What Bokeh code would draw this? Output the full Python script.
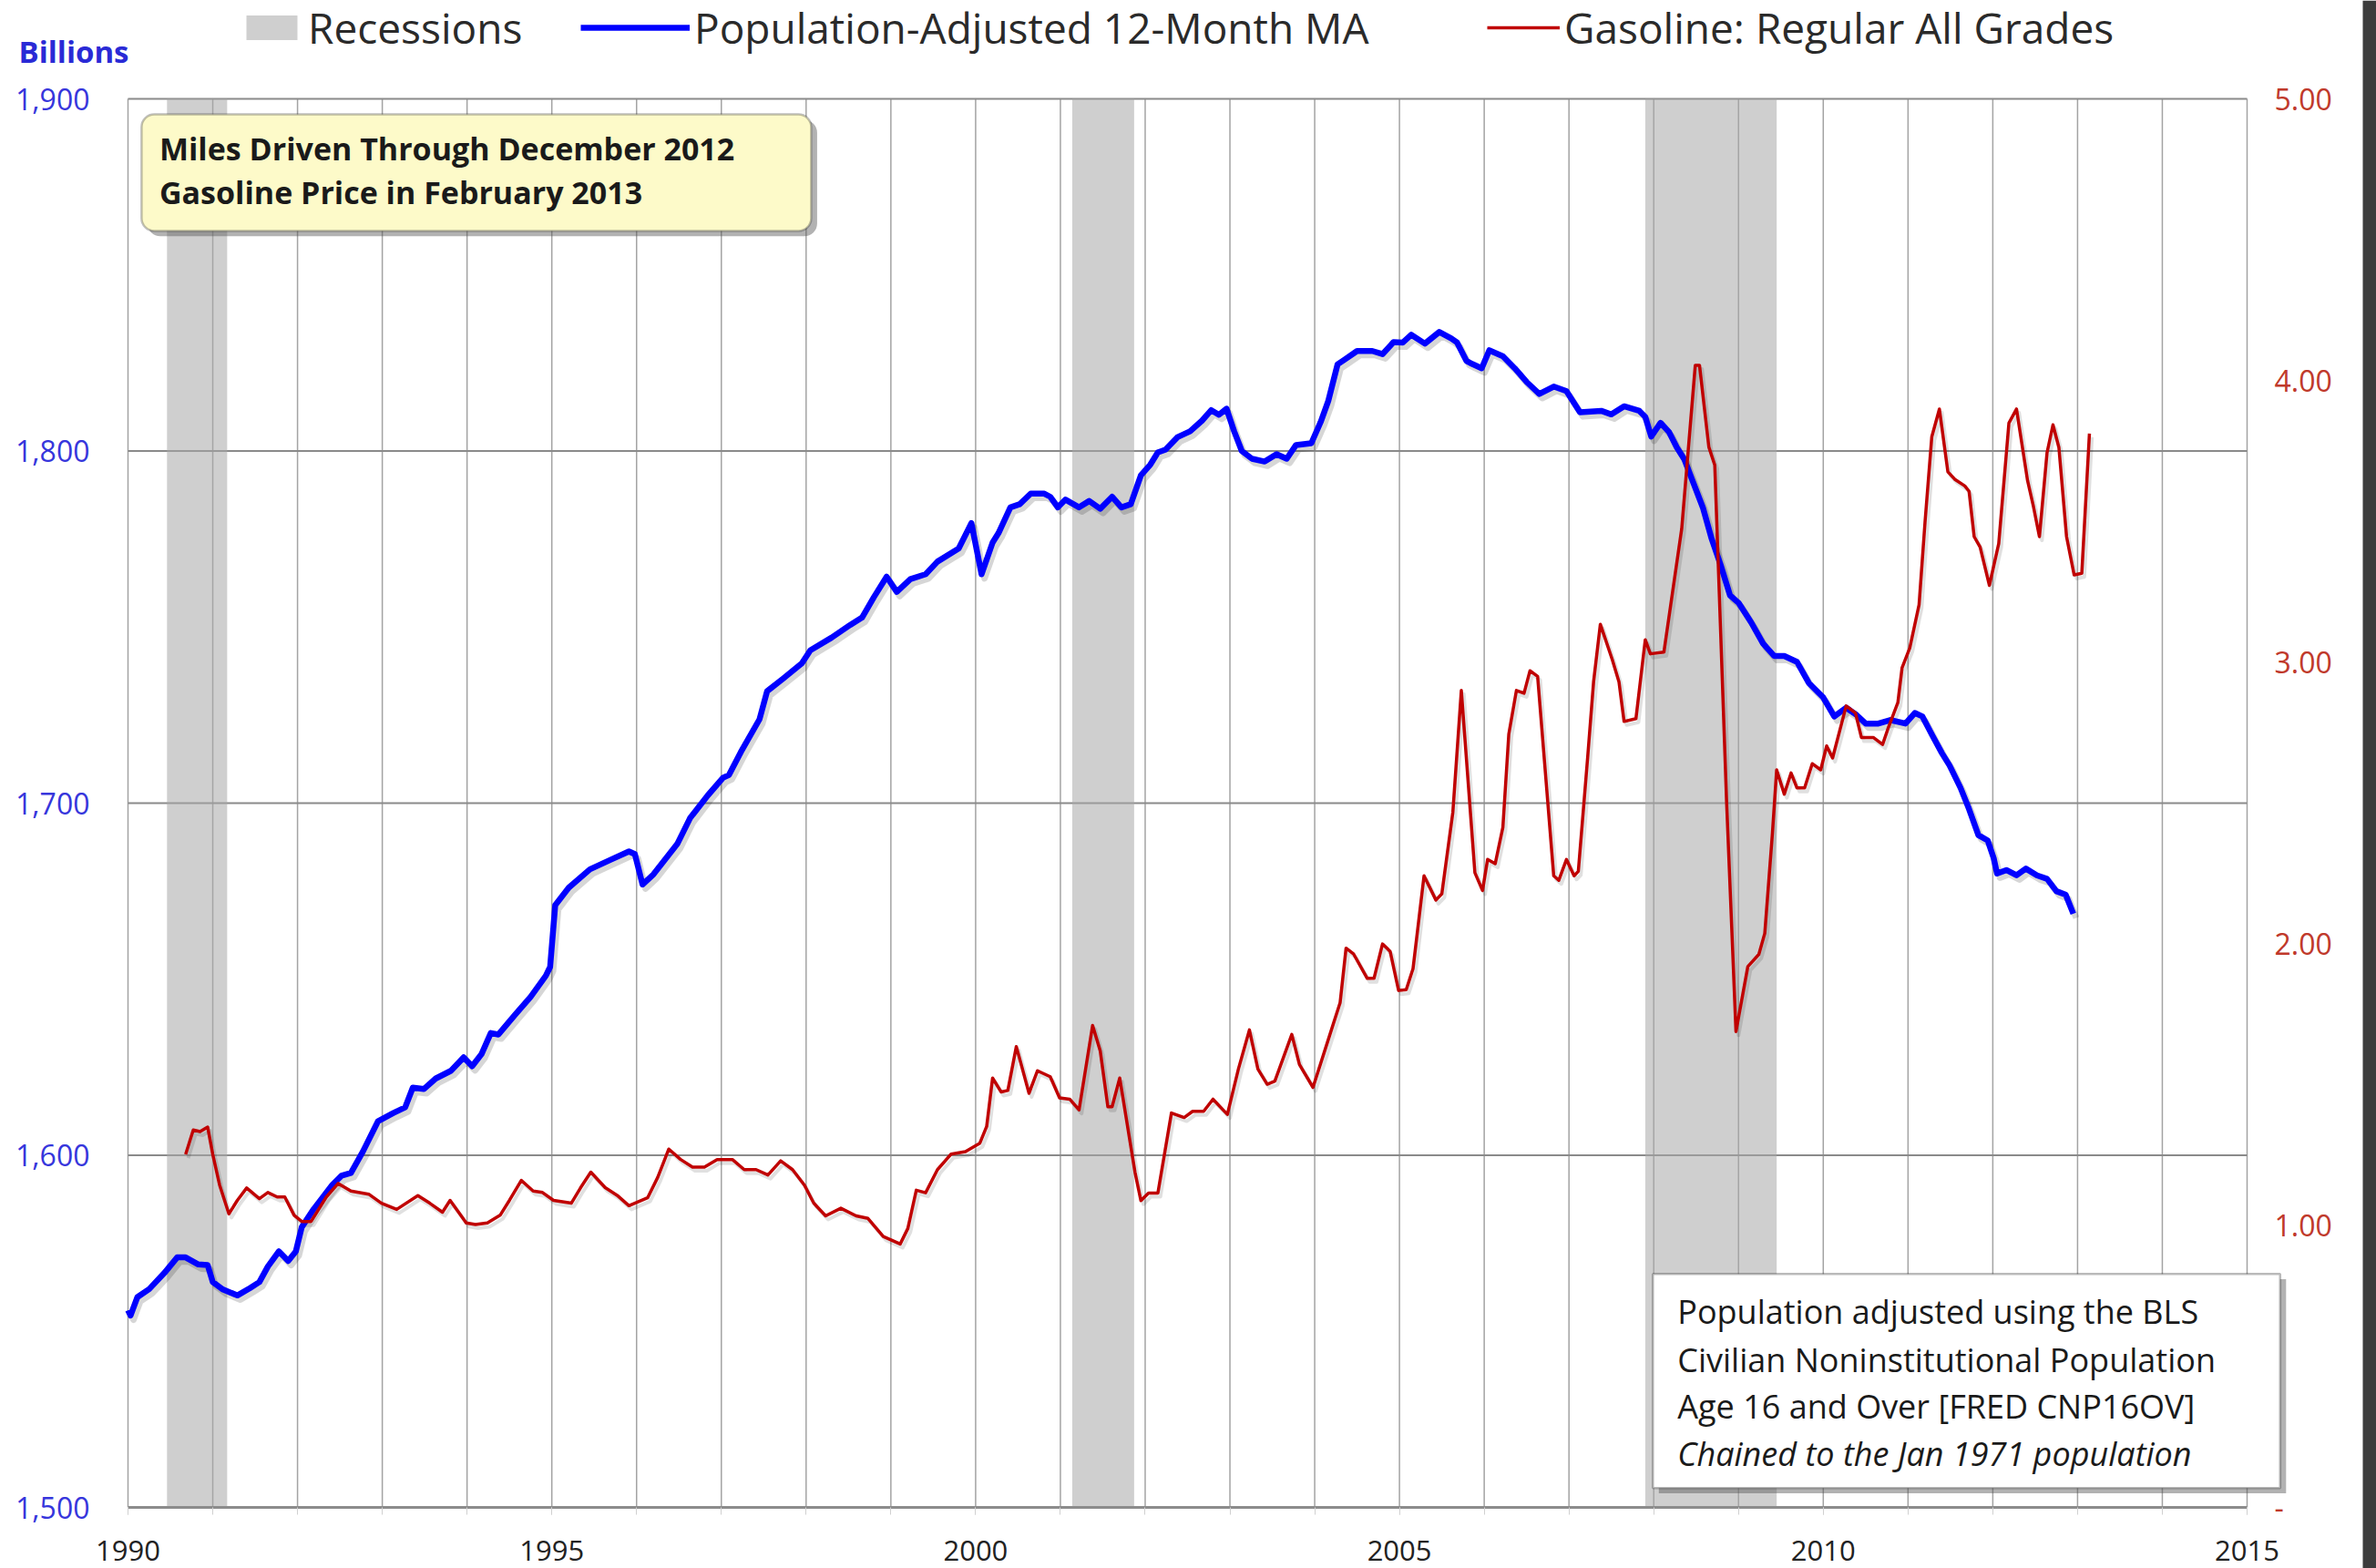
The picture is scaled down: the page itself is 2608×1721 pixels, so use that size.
from bokeh.plotting import figure
from bokeh.models import (Range1d, LinearAxis, FixedTicker, NumeralTickFormatter,
                          CustomJSTickFormatter, Legend, LegendItem, Label, BoxAnnotation)
from bokeh.embed import file_html
from bokeh.resources import INLINE

# ---------------- data ----------------
miles_year = [1990.00, 1990.03, 1990.11, 1990.25, 1990.43, 1990.58, 1990.68, 1990.83, 1990.94, 1991.00,
              1991.12, 1991.29, 1991.44, 1991.55, 1991.65, 1991.78, 1991.89, 1991.98, 1992.05, 1992.19,
              1992.41, 1992.52, 1992.63, 1992.77, 1992.95, 1993.13, 1993.27, 1993.36, 1993.49, 1993.63,
              1993.81, 1993.96, 1994.06, 1994.17, 1994.28, 1994.37, 1994.57, 1994.75, 1994.93, 1994.98,
              1995.04, 1995.20, 1995.45, 1995.70, 1995.91, 1995.98, 1996.07, 1996.20, 1996.48, 1996.63,
              1996.84, 1997.02, 1997.09, 1997.23, 1997.45, 1997.54, 1997.73, 1997.95, 1998.05, 1998.30,
              1998.52, 1998.66, 1998.80, 1998.95, 1999.07, 1999.23, 1999.41, 1999.55, 1999.80, 1999.95,
              2000.07, 2000.20, 2000.27, 2000.41, 2000.52, 2000.65, 2000.81, 2000.88, 2000.97, 2001.06,
              2001.22, 2001.34, 2001.47, 2001.61, 2001.72, 2001.83, 2001.95, 2002.06, 2002.15, 2002.24,
              2002.38, 2002.53, 2002.67, 2002.78, 2002.87, 2002.96, 2003.05, 2003.14, 2003.26, 2003.41,
              2003.55, 2003.67, 2003.78, 2003.96, 2004.07, 2004.16, 2004.27, 2004.35, 2004.50, 2004.68,
              2004.80, 2004.93, 2005.04, 2005.14, 2005.30, 2005.47, 2005.61, 2005.68, 2005.79, 2005.86,
              2005.97, 2006.06, 2006.22, 2006.36, 2006.50, 2006.65, 2006.82, 2006.97, 2007.13, 2007.38,
              2007.50, 2007.65, 2007.83, 2007.90, 2007.97, 2008.08, 2008.18, 2008.27, 2008.36, 2008.47,
              2008.58, 2008.68, 2008.79, 2008.90, 2009.00, 2009.15, 2009.29, 2009.42, 2009.54, 2009.69,
              2009.83, 2010.00, 2010.13, 2010.27, 2010.39, 2010.50, 2010.65, 2010.79, 2010.97, 2011.08,
              2011.17, 2011.29, 2011.40, 2011.49, 2011.62, 2011.72, 2011.83, 2011.94, 2012.01, 2012.05,
              2012.16, 2012.28, 2012.39, 2012.52, 2012.64, 2012.75, 2012.86, 2012.95]
miles_billions = [1556.0, 1554.5, 1559.7, 1562.0, 1566.6, 1571.0, 1571.0, 1569.0, 1568.8, 1564.0,
                  1561.9, 1560.2, 1562.3, 1564.0, 1568.4, 1572.7, 1570.0, 1572.7, 1579.6, 1584.7,
                  1591.6, 1594.2, 1595.0, 1601.0, 1609.7, 1612.0, 1613.6, 1619.2, 1618.8, 1621.8,
                  1624.0, 1627.8, 1625.3, 1628.7, 1634.7, 1634.3, 1640.0, 1645.0, 1651.0, 1653.5,
                  1671.0, 1676.0, 1681.2, 1684.0, 1686.3, 1685.5, 1676.9, 1679.8, 1688.4, 1695.7,
                  1702.2, 1707.2, 1708.0, 1714.5, 1723.8, 1731.8, 1735.4, 1739.7, 1743.4, 1747.0,
                  1750.6, 1752.7, 1758.5, 1764.3, 1760.0, 1763.6, 1765.0, 1768.6, 1772.3, 1779.5,
                  1765.0, 1774.0, 1776.7, 1784.0, 1784.9, 1787.9, 1787.9, 1787.0, 1784.0, 1786.2,
                  1784.0, 1785.8, 1783.6, 1787.0, 1784.0, 1784.9, 1793.1, 1796.1, 1799.6, 1800.4,
                  1803.9, 1805.6, 1808.6, 1811.6, 1810.3, 1812.0, 1805.6, 1800.0, 1797.8, 1797.0,
                  1799.1, 1797.8, 1801.7, 1802.2, 1808.2, 1814.2, 1824.6, 1825.9, 1828.4, 1828.4,
                  1827.5, 1830.9, 1830.8, 1833.0, 1830.5, 1833.8, 1832.0, 1830.8, 1825.6, 1824.7,
                  1823.5, 1828.6, 1826.9, 1823.5, 1819.6, 1816.2, 1818.3, 1817.0, 1811.0, 1811.4,
                  1810.4, 1812.7, 1811.4, 1809.7, 1804.1, 1808.0, 1805.4, 1801.1, 1797.7, 1790.8,
                  1783.9, 1775.3, 1767.6, 1759.0, 1756.9, 1751.3, 1745.3, 1741.8, 1741.8, 1740.1,
                  1734.1, 1730.0, 1724.6, 1727.1, 1725.1, 1722.6, 1722.6, 1723.6, 1722.6, 1725.6,
                  1724.6, 1719.1, 1714.2, 1710.7, 1704.3, 1698.3, 1690.9, 1689.4, 1684.4, 1680.0,
                  1681.0, 1679.5, 1681.4, 1679.5, 1678.5, 1675.0, 1674.0, 1668.6]

gas_year = [1990.68, 1990.77, 1990.85, 1990.94, 1991.00, 1991.08, 1991.19, 1991.29, 1991.40, 1991.55,
            1991.65, 1991.76, 1991.85, 1991.96, 1992.05, 1992.16, 1992.34, 1992.48, 1992.63, 1992.84,
            1992.99, 1993.17, 1993.42, 1993.56, 1993.71, 1993.80, 1993.99, 1994.10, 1994.24, 1994.39,
            1994.50, 1994.64, 1994.78, 1994.89, 1995.02, 1995.23, 1995.34, 1995.46, 1995.63, 1995.77,
            1995.91, 1996.13, 1996.25, 1996.38, 1996.52, 1996.66, 1996.80, 1996.95, 1997.13, 1997.27,
            1997.41, 1997.55, 1997.70, 1997.84, 1997.98, 1998.09, 1998.23, 1998.41, 1998.59, 1998.73,
            1998.91, 1999.11, 1999.20, 1999.30, 1999.41, 1999.55, 1999.71, 1999.88, 2000.05, 2000.13,
            2000.20, 2000.30, 2000.38, 2000.48, 2000.63, 2000.73, 2000.88, 2000.99, 2001.11, 2001.22,
            2001.38, 2001.47, 2001.56, 2001.61, 2001.70, 2001.88, 2001.95, 2002.04, 2002.15, 2002.31,
            2002.46, 2002.56, 2002.69, 2002.80, 2002.97, 2003.10, 2003.23, 2003.33, 2003.44, 2003.53,
            2003.73, 2003.82, 2003.98, 2004.18, 2004.30, 2004.37, 2004.46, 2004.62, 2004.70, 2004.80,
            2004.89, 2004.99, 2005.08, 2005.16, 2005.29, 2005.43, 2005.50, 2005.63, 2005.73, 2005.89,
            2005.98, 2006.04, 2006.13, 2006.22, 2006.29, 2006.38, 2006.47, 2006.54, 2006.63, 2006.82,
            2006.88, 2006.97, 2007.06, 2007.11, 2007.22, 2007.29, 2007.37, 2007.51, 2007.59, 2007.65,
            2007.79, 2007.90, 2007.96, 2008.12, 2008.33, 2008.49, 2008.54, 2008.65, 2008.72, 2008.79,
            2008.86, 2008.97, 2009.11, 2009.24, 2009.31, 2009.40, 2009.45, 2009.54, 2009.62, 2009.69,
            2009.78, 2009.87, 2009.97, 2010.04, 2010.11, 2010.27, 2010.38, 2010.45, 2010.59, 2010.70,
            2010.77, 2010.88, 2010.93, 2011.02, 2011.13, 2011.20, 2011.28, 2011.37, 2011.47, 2011.55,
            2011.67, 2011.72, 2011.78, 2011.85, 2011.96, 2012.07, 2012.19, 2012.28, 2012.41, 2012.48,
            2012.55, 2012.64, 2012.71, 2012.78, 2012.87, 2012.96, 2013.05, 2013.14]
gas_price = [1.253, 1.340, 1.334, 1.350, 1.253, 1.145, 1.042, 1.090, 1.134, 1.096,
             1.118, 1.102, 1.102, 1.037, 1.015, 1.015, 1.102, 1.150, 1.123, 1.112,
             1.080, 1.058, 1.107, 1.080, 1.048, 1.090, 1.010, 1.004, 1.010, 1.037,
             1.090, 1.161, 1.123, 1.118, 1.090, 1.080, 1.135, 1.190, 1.135, 1.108,
             1.071, 1.099, 1.172, 1.272, 1.235, 1.208, 1.208, 1.235, 1.235, 1.199,
             1.199, 1.180, 1.230, 1.199, 1.144, 1.080, 1.035, 1.062, 1.035, 1.026,
             0.962, 0.935, 0.990, 1.126, 1.117, 1.199, 1.254, 1.263, 1.293, 1.352,
             1.524, 1.475, 1.480, 1.636, 1.470, 1.550, 1.529, 1.454, 1.449, 1.411,
             1.711, 1.620, 1.422, 1.422, 1.524, 1.190, 1.089, 1.116, 1.116, 1.400,
             1.384, 1.406, 1.406, 1.449, 1.395, 1.556, 1.695, 1.556, 1.502, 1.513,
             1.679, 1.572, 1.491, 1.679, 1.792, 1.985, 1.964, 1.878, 1.878, 2.000,
             1.974, 1.835, 1.838, 1.912, 2.242, 2.156, 2.178, 2.468, 2.900, 2.253,
             2.190, 2.300, 2.285, 2.414, 2.745, 2.900, 2.890, 2.970, 2.950, 2.242,
             2.226, 2.300, 2.242, 2.258, 2.661, 2.930, 3.135, 3.010, 2.930, 2.790,
             2.800, 3.080, 3.030, 3.036, 3.474, 4.054, 4.054, 3.764, 3.700, 3.100,
             2.500, 1.689, 1.920, 1.963, 2.038, 2.393, 2.618, 2.532, 2.607, 2.554,
             2.554, 2.640, 2.618, 2.703, 2.660, 2.845, 2.820, 2.733, 2.733, 2.708,
             2.770, 2.857, 2.981, 3.050, 3.204, 3.496, 3.800, 3.899, 3.676, 3.650,
             3.626, 3.607, 3.446, 3.409, 3.273, 3.421, 3.849, 3.899, 3.645, 3.552,
             3.446, 3.744, 3.843, 3.762, 3.446, 3.310, 3.316, 3.812]

recession_start = [1990.46, 2001.14, 2007.90]
recession_end = [1991.17, 2001.87, 2009.45]

x_label_ticks = [1990, 1995, 2000, 2005, 2010, 2015]
x_grid_years = list(range(1990, 2016))
left_ticks = [1500, 1600, 1700, 1800, 1900]
h_grid_values = [1600, 1700, 1800, 1900]
right_ticks = [0, 1, 2, 3, 4, 5]

legend_labels = ["Recessions", "Population-Adjusted 12-Month MA", "Gasoline: Regular All Grades"]
title_lines = ["Miles Driven Through December 2012", "Gasoline Price in February 2013"]
note_lines = ["Population adjusted using the BLS", "Civilian Noninstitutional Population",
              "Age 16 and Over  [FRED CNP16OV]", "Chained to the Jan 1971 population"]

FONT = "Open Sans"

# ---------------- layout: the frame covers the whole canvas ----------------
W, H = 2608, 1721
X0_PX, PX_PER_YEAR = 140.0, 93.04          # 1990 sits at x = 140 px
Y1900_PX, PX_PER_BILLION = 108.0, 3.865    # 1,900 sits at y = 108 px from the top
x_start = 1990 - X0_PX / PX_PER_YEAR
x_end = 1990 + (W - X0_PX) / PX_PER_YEAR
y_top = 1900 + Y1900_PX / PX_PER_BILLION
y_bottom = 1900 - (H - Y1900_PX) / PX_PER_BILLION
# right scale: 0 -> 1,500 and 5.00 -> 1,900
g_bottom = (y_bottom - 1500) / 80.0
g_top = (y_top - 1500) / 80.0

p = figure(width=W, height=H, x_range=Range1d(x_start, x_end), y_range=Range1d(y_bottom, y_top),
           output_backend="svg", toolbar_location=None, min_border=0)
p.extra_y_ranges = {"gas": Range1d(g_bottom, g_top)}
p.outline_line_color = None
p.background_fill_color = "white"
p.border_fill_color = "white"
p.xgrid.visible = False
p.ygrid.visible = False

# grid lines limited to the plot area
p.segment(x0=x_grid_years, x1=x_grid_years, y0=[1500] * len(x_grid_years), y1=[1900] * len(x_grid_years),
          line_color="#a3a3a3", line_width=1.5, level="underlay")
p.segment(x0=[1990] * len(h_grid_values), x1=[2015] * len(h_grid_values),
          y0=h_grid_values, y1=h_grid_values, line_color="#8a8a8a", line_width=2, level="underlay")

# x axis
xa = p.xaxis[0]
xa.fixed_location = 1500
xa.bounds = (1990, 2015)
xa.ticker = FixedTicker(ticks=x_label_ticks, minor_ticks=x_grid_years)
xa.axis_line_color = "#8c8c8c"
xa.axis_line_width = 3
xa.major_tick_in = 0
xa.major_tick_out = 8
xa.minor_tick_in = 0
xa.minor_tick_out = 8
xa.major_tick_line_color = "#d0d0d0"
xa.minor_tick_line_color = "#d0d0d0"
xa.major_label_text_font = FONT
xa.major_label_text_font_size = "31px"
xa.major_label_text_color = "#222222"
xa.major_label_standoff = 28

# left axis
ya = p.yaxis[0]
ya.fixed_location = 1990
ya.bounds = (1500, 1900)
ya.ticker = FixedTicker(ticks=left_ticks)
ya.formatter = NumeralTickFormatter(format="0,0")
ya.axis_line_color = None
ya.major_tick_line_color = None
ya.minor_tick_line_color = None
ya.major_label_text_font = FONT
ya.major_label_text_font_size = "32px"
ya.major_label_text_color = "#3636dc"
ya.major_label_standoff = 36

# right axis
ra = LinearAxis(y_range_name="gas", ticker=FixedTicker(ticks=right_ticks), fixed_location=2015,
                bounds=(0, 5),
                formatter=CustomJSTickFormatter(code="return tick == 0 ? '-' : tick.toFixed(2);"))
ra.axis_line_color = None
ra.major_tick_line_color = None
ra.minor_tick_line_color = None
ra.major_label_text_font = FONT
ra.major_label_text_font_size = "32px"
ra.major_label_text_color = "#c0392b"
ra.major_label_standoff = 24
p.add_layout(ra, "right")

# recessions
rec = p.quad(left=recession_start, right=recession_end, bottom=1500, top=1900,
             fill_color="#a8a8a8", fill_alpha=0.55, line_color=None)

# soft drop shadows under the two series (Excel style)
p.line([x + 0.035 for x in miles_year], [v - 1.2 for v in miles_billions],
       line_color="#000000", line_alpha=0.16, line_width=7, line_join="round")
p.line([x + 0.03 for x in gas_year], [g - 0.013 for g in gas_price], y_range_name="gas",
       line_color="#000000", line_alpha=0.12, line_width=4, line_join="round")

# series
blue = p.line(miles_year, miles_billions, line_color="#0000ff", line_width=6.5, line_join="round")
red = p.line(gas_year, gas_price, y_range_name="gas", line_color="#c00000", line_width=3.5,
             line_join="round")

# legend row at the top (three legends so each key has its own length)
LEG_H = 62
leg_vy = H - 30 - LEG_H / 2
for lab, rend, lx, gw in [(legend_labels[0], rec, 263, 70),
                          (legend_labels[1], blue, 637, 120),
                          (legend_labels[2], red, 1632, 80)]:
    lg = Legend(items=[LegendItem(label=lab, renderers=[rend])], location=(lx, leg_vy),
                orientation="horizontal", glyph_width=gw, glyph_height=34, label_height=LEG_H,
                label_standoff=5, padding=0, margin=0, spacing=0,
                border_line_color=None, background_fill_alpha=0,
                label_text_font=FONT, label_text_font_size="46px", label_text_color="#2a2a2a")
    p.add_layout(lg, "center")

# "Billions" above the left scale
p.add_layout(Label(x=1990 + (20 - X0_PX) / PX_PER_YEAR, y=1900 + (Y1900_PX - 56) / PX_PER_BILLION,
                   text="Billions", text_font=FONT, text_font_style="bold", text_font_size="33px",
                   text_color="#2a2ad6", text_baseline="middle"))

# yellow box
p.add_layout(BoxAnnotation(left=1990.23, right=1998.13, top=1894.0, bottom=1861.0,
                           fill_color="#555555", fill_alpha=0.45, line_color=None, border_radius=14))
p.add_layout(BoxAnnotation(left=1990.16, right=1998.06, top=1895.6, bottom=1862.5,
                           fill_color="#fdfac9", fill_alpha=1, line_color="#2a2a2a",
                           line_width=2.5, border_radius=14))
for txt, yy in zip(title_lines, [1885.8, 1873.4]):
    p.add_layout(Label(x=1990.37, y=yy, text=txt, text_font=FONT, text_font_style="bold",
                       text_font_size="34px", text_color="#1a1a1a", text_baseline="middle"))

# note box
p.add_layout(BoxAnnotation(left=2008.06, right=2015.46, top=1564.8, bottom=1504.0,
                           fill_color="#555555", fill_alpha=0.45, line_color=None))
p.add_layout(BoxAnnotation(left=2007.99, right=2015.39, top=1566.3, bottom=1505.5,
                           fill_color="white", fill_alpha=1, line_color="#1a1a1a", line_width=2.5))
for i, (txt, yy) in enumerate(zip(note_lines, [1555.5, 1542.0, 1528.8, 1515.3])):
    p.add_layout(Label(x=2008.28, y=yy, text=txt, text_font=FONT,
                       text_font_style="italic" if i == 3 else "normal",
                       text_font_size="36px", text_color="#1a1a1a", text_baseline="middle"))

# dark edge on the right of the picture
p.add_layout(BoxAnnotation(left=1990 + (2593 - X0_PX) / PX_PER_YEAR, right=x_end,
                           fill_color="#3c3c3c", fill_alpha=1, line_color=None))

open("out.html", "w").write(file_html(p, INLINE))
